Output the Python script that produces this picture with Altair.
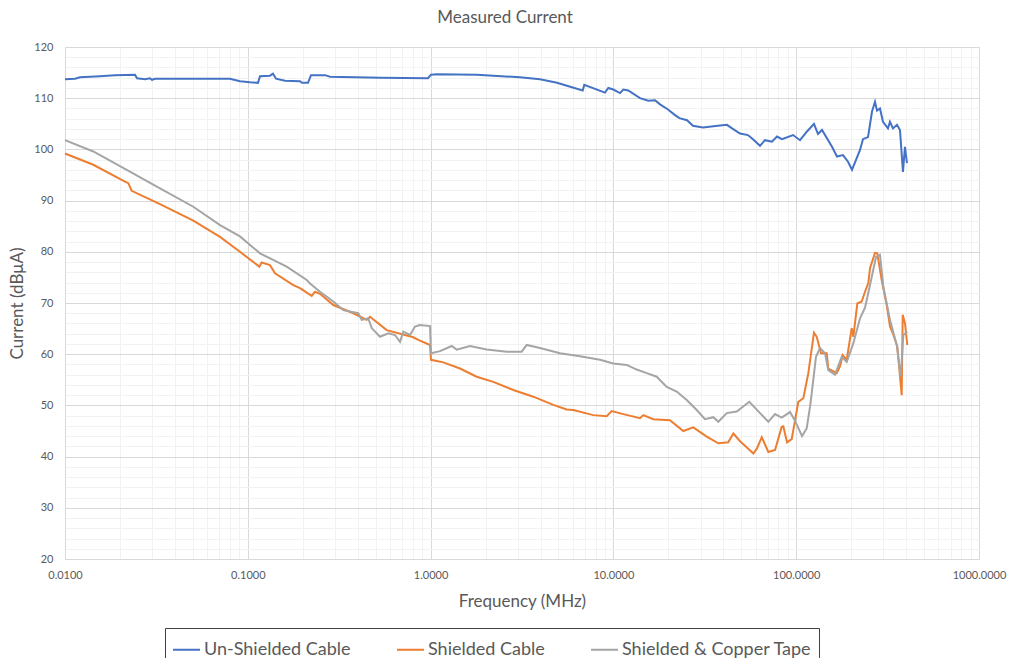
import altair as alt
import pandas as pd

# ---------------- data ----------------
series_names = ["Un-Shielded Cable", "Shielded Cable", "Shielded & Copper Tape"]
series_colors = ["#4472C4", "#ED7D31", "#A5A5A5"]

unshielded_freq = [0.0100, 0.01134, 0.01208, 0.01554, 0.01877, 0.02415, 0.02477, 0.02739, 0.02917,
                   0.02992, 0.03105, 0.0799, 0.0906, 0.1028, 0.1137, 0.1166, 0.1322, 0.1373, 0.1427,
                   0.1598, 0.1931, 0.1980, 0.2135, 0.2217, 0.2645, 0.2817, 0.5287, 0.968, 1.005, 1.084,
                   1.794, 2.195, 3.083, 3.967, 4.914, 6.79, 6.93, 8.99, 9.38, 9.99, 10.87, 11.33, 12.06,
                   13.98, 15.52, 16.89, 17.99, 19.9, 21.73, 22.97, 25.27, 27.25, 30.9, 37.3, 41.8, 44.6,
                   49.3, 54.5, 58.0, 63.4, 67.5, 73.7, 78.5, 83.6, 96.1, 104.9, 114.6, 125.1, 131.6,
                   138.4, 157.0, 167.2, 180.3, 192.1, 202.0, 223.4, 231.9, 247.1, 259.9, 269.8, 276.7,
                   287.3, 298.4, 317.8, 325.8, 338.4, 355.9, 369.6, 383.7, 393.6, 403.6]
unshielded_val = [113.7, 113.8, 114.1, 114.3, 114.5, 114.6, 113.9, 113.7, 113.9,
                  113.6, 113.8, 113.8, 113.3, 113.1, 113.0, 114.3, 114.4, 114.8, 113.8,
                  113.4, 113.3, 113.0, 113.0, 114.5, 114.5, 114.2, 114.0, 113.9, 114.6, 114.7,
                  114.6, 114.4, 114.1, 113.7, 113.0, 111.5, 112.6, 111.1, 112.0, 111.7, 111.0, 111.7, 111.5,
                  110.0, 109.5, 109.6, 108.8, 107.8, 106.7, 106.1, 105.7, 104.6, 104.3, 104.6, 104.8, 104.1,
                  103.1, 102.8, 102.0, 100.7, 101.8, 101.5, 102.5, 102.0, 102.8, 101.8, 103.5, 105.0, 103.0,
                  103.8, 100.5, 98.6, 98.9, 97.6, 96.0, 99.9, 102.0, 102.4, 107.4, 109.3, 107.6,
                  108.0, 105.4, 104.1, 105.4, 104.1, 104.8, 103.8, 95.6, 100.5, 97.3]

shielded_freq = [0.0100, 0.01428, 0.02129, 0.02220, 0.02317, 0.03309, 0.05034, 0.07046, 0.0906,
                 0.1156, 0.1191, 0.1322, 0.1409, 0.1774, 0.1931, 0.2237, 0.2332, 0.2483, 0.2936,
                 0.3777, 0.4473, 0.4661, 0.5754, 0.8043, 0.8565, 0.9924, 1.005, 1.174, 1.448, 1.787,
                 2.203, 2.835, 3.646, 4.691, 5.552, 6.034, 7.762, 9.19, 9.79, 11.33, 13.98, 14.57,
                 16.53, 20.4, 24.13, 27.35, 32.4, 37.5, 42.5, 45.3, 49.3, 58.3, 61.0, 64.8, 70.4,
                 76.6, 83.3, 85.0, 89.1, 94.5, 102.7, 109.4, 116.5, 125.1, 129.5, 136.7, 146.9,
                 149.8, 166.6, 173.6, 179.6, 188.9, 201.2, 205.3, 216.0, 228.2, 237.9, 248.0,
                 253.4, 269.8, 277.7, 293.5, 312.7, 326.0, 339.9, 357.4, 377.7, 382.5, 393.7, 405.3]
shielded_val = [99.2, 97.0, 93.7, 93.4, 91.9, 89.3, 86.1, 82.9, 80.0,
                77.1, 77.9, 77.4, 75.8, 73.5, 72.9, 71.4, 72.2, 71.8, 69.6,
                68.0, 66.7, 67.3, 64.7, 63.3, 62.8, 61.8, 58.9, 58.4, 57.2, 55.6,
                54.6, 53.0, 51.7, 50.1, 49.2, 49.1, 48.1, 47.9, 48.9, 48.3, 47.5, 48.1,
                47.3, 47.1, 45.0, 45.7, 43.9, 42.6, 42.8, 44.5, 43.0, 40.6, 41.6, 43.8, 40.9,
                41.3, 45.8, 45.9, 42.8, 43.4, 50.7, 51.4, 56.3, 64.2, 63.4, 60.2, 60.2,
                57.2, 56.3, 57.6, 59.8, 58.9, 65.1, 63.4, 69.9, 70.3, 72.2, 73.9,
                76.8, 79.8, 79.7, 74.5, 69.6, 65.4, 63.8, 61.5, 52.0, 67.7, 66.0, 61.8]

tape_freq = [0.0100, 0.01428, 0.02176, 0.03309, 0.05034, 0.07046, 0.0906, 0.1166, 0.1632, 0.2101,
             0.2190, 0.2483, 0.2936, 0.3330, 0.4023, 0.4200, 0.4563, 0.4763, 0.5287, 0.5869,
             0.6388, 0.6803, 0.7092, 0.7716, 0.8219, 0.8750, 0.9924, 1.005, 1.126, 1.305, 1.389,
             1.643, 2.028, 2.609, 3.150, 3.355, 3.967, 5.104, 6.567, 8.447, 9.99, 11.82, 13.41,
             15.21, 17.26, 19.57, 22.20, 25.18, 28.56, 31.7, 35.2, 37.5, 41.7, 47.3, 55.4, 63.4,
             70.4, 76.6, 83.3, 92.5, 98.5, 107.6, 114.1, 119.0, 121.6, 128.3, 134.9, 143.7,
             149.8, 163.0, 177.4, 188.9, 205.3, 223.4, 237.9, 253.4, 273.3, 287.3, 299.6, 326.0,
             354.7, 373.0, 385.4, 405.3]
tape_val = [101.8, 99.6, 96.0, 92.4, 88.8, 85.2, 83.0, 79.7, 77.1, 74.5,
            73.8, 72.2, 70.3, 68.6, 68.0, 66.7, 67.0, 65.1, 63.4, 64.1,
            63.75, 62.4, 64.4, 63.75, 65.4, 65.7, 65.5, 60.2, 60.6, 61.6, 60.9,
            61.6, 60.9, 60.5, 60.5, 61.8, 61.2, 60.2, 59.6, 58.9, 58.2, 57.9, 57.0,
            56.3, 55.6, 53.6, 52.7, 51.05, 49.1, 47.3, 47.7, 46.8, 48.5, 48.8, 50.7, 48.5,
            46.8, 48.3, 47.6, 48.7, 47.0, 44.0, 45.5, 49.7, 52.4, 59.5, 61.2, 60.2,
            56.9, 56.0, 59.5, 58.5, 62.1, 67.0, 69.1, 73.5, 79.0, 79.4, 73.2, 66.7,
            61.8, 55.6, 63.75, 64.4]

chart_title = "Measured Current"
x_title = "Frequency (MHz)"
y_title = "Current (dBμA)"

# ---------------- build table ----------------
rows = []
for name, fr, vals in zip(series_names,
                          [unshielded_freq, shielded_freq, tape_freq],
                          [unshielded_val, shielded_val, tape_val]):
    for i, (f, v) in enumerate(zip(fr, vals)):
        rows.append({"series": name, "freq": f, "current": v, "idx": i})
df = pd.DataFrame(rows)

x_ticks = [round(m * 10.0 ** e, 6) for e in range(-2, 3) for m in range(1, 10)] + [1000.0]
y_ticks = list(range(20, 121, 2))

is_decade = "abs(log(datum.value)/LN10 - round(log(datum.value)/LN10)) < 0.001"
text_color = "#595959"
font = "Lato"

x_axis = alt.Axis(
    values=x_ticks,
    labelExpr=f"{is_decade} ? format(datum.value, '.4f') : ''",
    labelOverlap=False,
    labelFlush=False,
    ticks=False,
    grid=True,
    gridColor={"condition": {"test": is_decade, "value": "#D9D9D9"}, "value": "#F2F2F2"},
    gridWidth=1,
    domainColor="#D9D9D9",
    labelFontSize=11,
    labelColor=text_color,
    labelFont=font,
    labelPadding=10,
    title=x_title,
    titleFontSize=17,
    titleFontWeight="normal",
    titleColor=text_color,
    titleFont=font,
    titlePadding=13,
)

y_axis = alt.Axis(
    values=y_ticks,
    labelExpr="datum.value % 10 === 0 ? datum.value : ''",
    labelOverlap=False,
    ticks=False,
    grid=True,
    gridColor={"condition": {"test": "datum.value % 10 === 0", "value": "#D9D9D9"}, "value": "#F2F2F2"},
    gridWidth=1,
    domainColor="#D9D9D9",
    labelFontSize=11,
    labelColor=text_color,
    labelFont=font,
    labelPadding=12,
    title=y_title,
    titleFontSize=17,
    titleFontWeight="normal",
    titleColor=text_color,
    titleFont=font,
    titlePadding=7,
)

chart = alt.Chart(df).mark_line(strokeWidth=2).encode(
    x=alt.X("freq:Q", scale=alt.Scale(type="log", domain=[0.01, 1000], nice=False), axis=x_axis),
    y=alt.Y("current:Q", scale=alt.Scale(domain=[20, 120], nice=False, zero=False), axis=y_axis),
    color=alt.Color(
        "series:N",
        scale=alt.Scale(domain=series_names, range=series_colors),
        sort=series_names,
        legend=alt.Legend(
            title=None,
            orient="none",
            legendX=100,
            legendY=581,
            direction="horizontal",
            symbolType="stroke",
            symbolStrokeWidth=2,
            symbolSize=729,
            labelFontSize=18,
            labelFont=font,
            labelColor=text_color,
            labelLimit=400,
            labelOffset=3,
            columnPadding=42,
            padding=7,
            strokeColor="#404040",
            fillColor="white",
        ),
    ),
    order="idx:Q",
).properties(
    width=914,
    height=512,
    title=alt.TitleParams(chart_title, fontSize=17, font=font, fontWeight="normal",
                          color=text_color, anchor="middle", dx=-17, offset=14),
    autosize=alt.AutoSizeParams(type="none"),
    padding={"left": 65, "top": 47, "right": 35, "bottom": 99},
    background="white",
).configure_view(stroke=None)

chart.save("out.html", embed_options={"renderer": "svg", "actions": False})
